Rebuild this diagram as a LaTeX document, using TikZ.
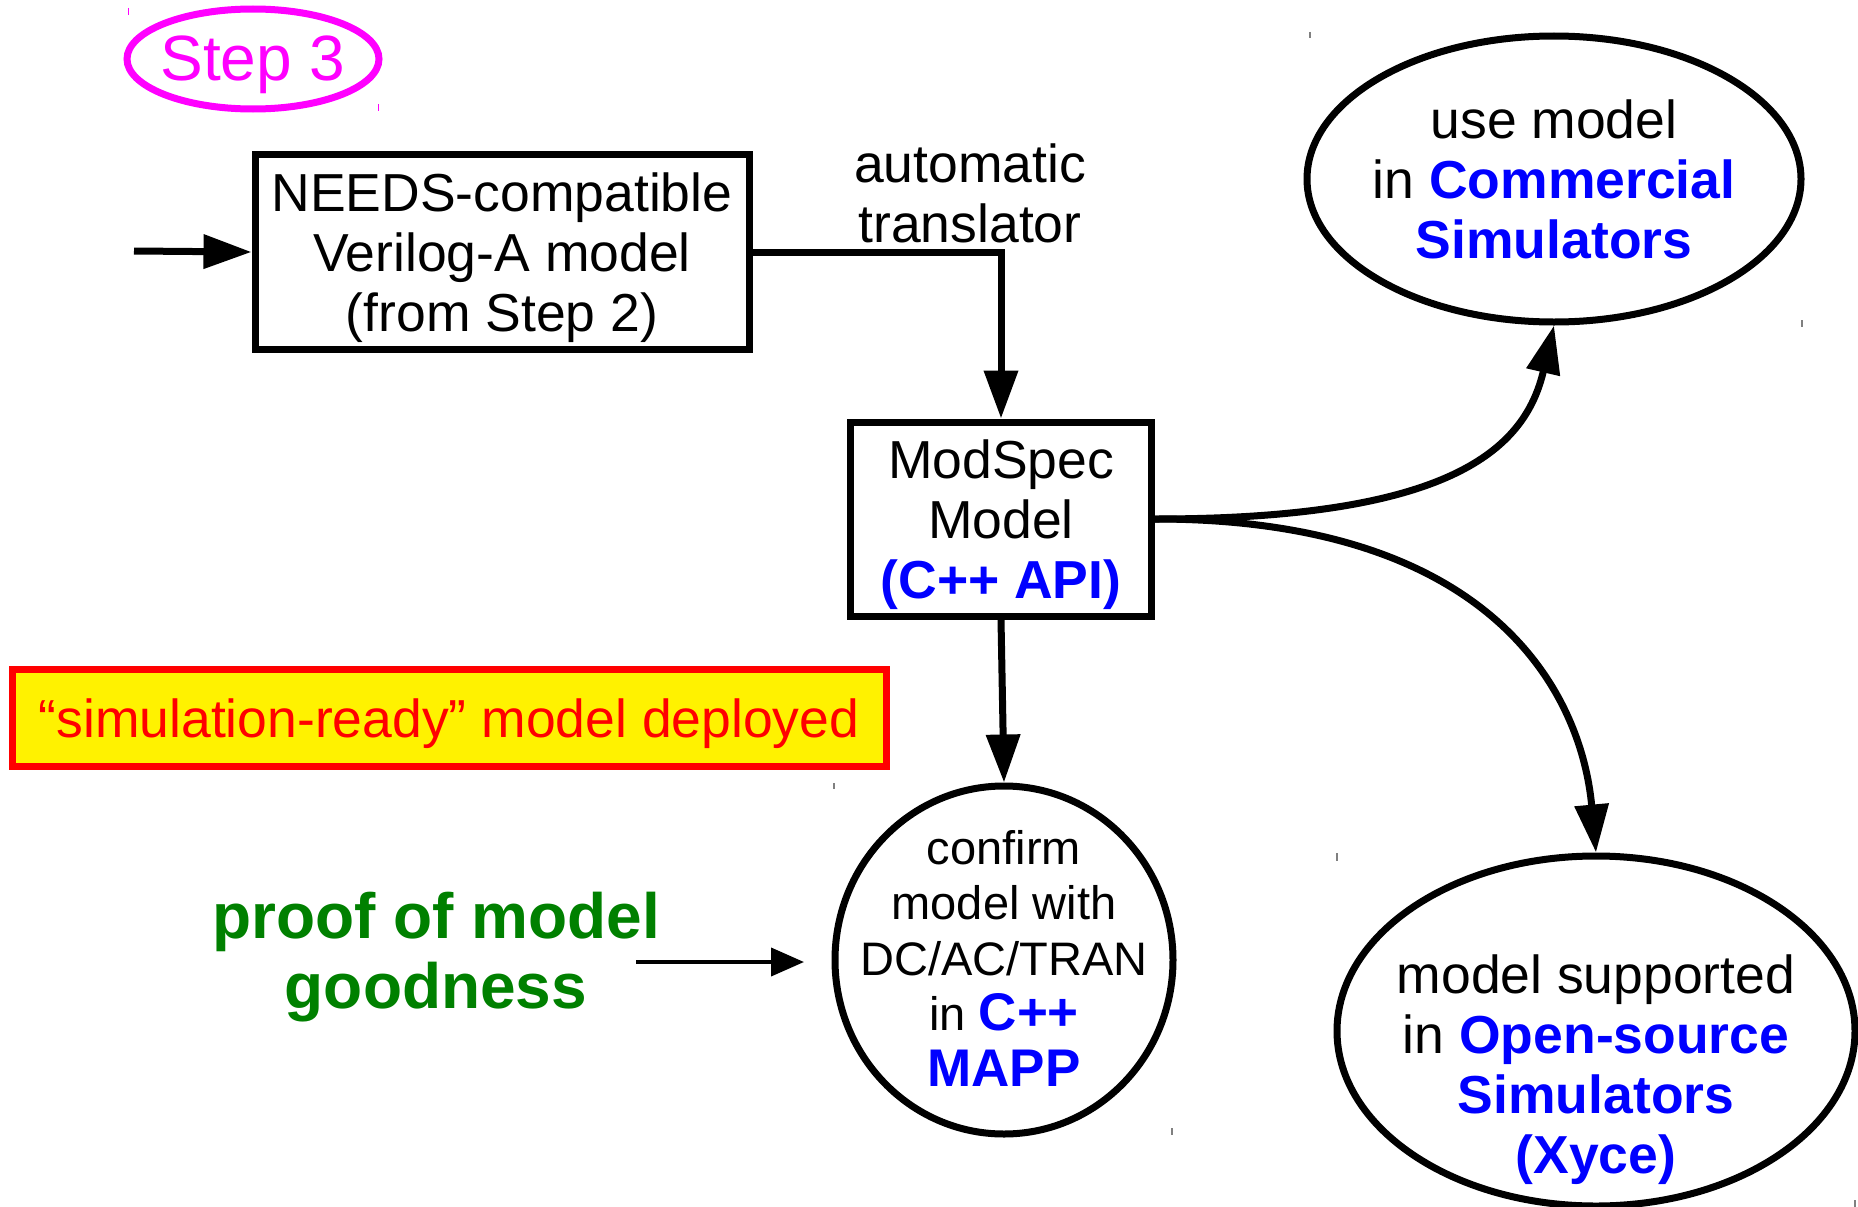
\documentclass[tikz,border=0pt]{standalone}
\usepackage{fontspec}
\setmainfont{Liberation Sans}
\usetikzlibrary{arrows.meta,shapes.geometric}
\definecolor{mag}{RGB}{255,0,255}
\definecolor{grn}{RGB}{0,128,0}
\definecolor{blu}{RGB}{0,0,255}
\newcommand{\bluebf}[1]{\textcolor{blu}{\bfseries #1}}
\begin{document}
\begin{tikzpicture}[x=1pt,y=-1pt,
  boxnode/.style={draw, line width=7pt, inner sep=0pt},
  ellnode/.style={draw, ellipse, line width=7pt, inner sep=0pt},
  txt/.style={align=center, inner sep=0pt, font=\fontsize{53.5}{60}\selectfont},
  arr/.style={line width=7pt, -{Triangle[length=48pt,width=33pt]}},
  thinarr/.style={line width=4pt, -{Triangle[length=33pt,width=28pt]}},
  tick/.style={line width=1.5pt, gray}
]
\useasboundingbox (0,0) rectangle (1858,1207);

% Step 3
\node[ellnode, draw=mag, minimum width=252, minimum height=100] (step) at (253,59) {};
\node[txt, text=mag, font=\fontsize{64}{70}\selectfont] (steptext) at (253,65) {Step 3};

% NEEDS box
\node[boxnode, minimum width=494, minimum height=195] (needs) at (502,252) {};
\node[txt] (needstext) at (502,258) {NEEDS-compatible\\Verilog-A model\\(from Step 2)};
\coordinate (in) at (134,251);
\draw[arr] (in) -- (needs.west);

% ModSpec box
\node[boxnode, minimum width=301, minimum height=194] (modspec) at (1001,519) {};
\node[txt] (modtext) at (1001,525) {ModSpec\\Model\\\bluebf{(C++ API)}};
\draw[arr] (needs.east) -| (modspec.north);
\node[txt] (auto) at (970,193) {automatic\\translator};

% simulation-ready box
\node[draw=red, fill=yellow, line width=7pt, minimum width=874, minimum height=97, inner sep=0pt] (ready) at (449,718) {};
\node[txt, text=red] (readytext) at (449,724) {“simulation-ready” model deployed};

% confirm circle
\node[ellnode, minimum width=338, minimum height=348] (confirm) at (1004,960) {};
\node[txt, font=\fontsize{47}{55.5}\selectfont] (conftext) at (1004,958)
  {confirm\\model with\\DC/AC/TRAN\\in {\fontsize{53}{56}\selectfont\bluebf{C++}}\\{\fontsize{53}{56}\selectfont\bluebf{MAPP}}};
\draw[arr] (modspec.south) -- (confirm.north);

% proof of model goodness
\node[txt, text=grn, font=\fontsize{64}{70}\selectfont\bfseries] (proof) at (436,957)
  {proof of model\\goodness};
\coordinate (pstart) at (636,962);
\coordinate (pend) at (804,962);
\draw[thinarr] (pstart) -- (pend);

% use model ellipse
\node[ellnode, minimum width=494, minimum height=286] (use) at (1554,179) {};
\node[txt] (usetext) at (1554,179)
  {use model\\in \bluebf{Commercial}\\\bluebf{Simulators}};

% open-source ellipse
\node[ellnode, minimum width=518, minimum height=350] (os) at (1596,1031) {};
\node[txt] (ostext) at (1596,1070)
  {model supported\\in \bluebf{Open-source}\\\bluebf{Simulators}\\\bluebf{(Xyce)}};

% curves
\draw[arr] (modspec.east) .. controls (1450,519) and (1525,450) .. (use.south);
\draw[arr] (modspec.east) .. controls (1500,519) and (1582,700) .. (os.north);

% stray bounding-box ticks
\draw[tick, mag] (128.6,8) -- (128.6,15);
\draw[tick, mag] (378.6,104) -- (378.6,111);
\draw[tick] (1310,32) -- (1310,38);
\draw[tick] (1802,320) -- (1802,327);
\draw[tick] (834,783) -- (834,789);
\draw[tick] (1172,1128) -- (1172,1135);
\draw[tick] (1337,853) -- (1337,861);
\draw[tick] (1855,1200) -- (1855,1207);
\end{tikzpicture}
\end{document}
